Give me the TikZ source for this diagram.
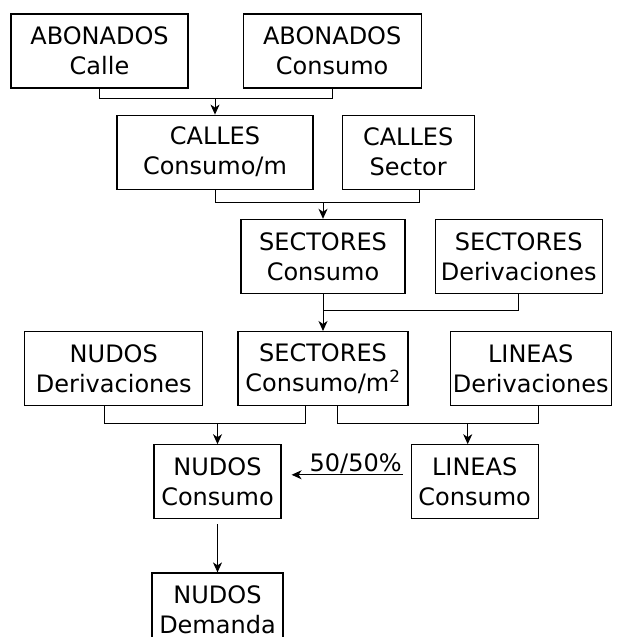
\documentclass[tikz,border=0pt]{standalone}
\usepackage{fontspec}
\setmainfont{DejaVu Sans}
\usepackage{tikz}
\usetikzlibrary{arrows.meta, positioning}
\tikzset{
    box/.style={rectangle, draw, line width=1.2pt, align=center, minimum height=74pt, inner sep=2pt, font=\fontsize{24}{30}\selectfont},
    link/.style={line width=1pt},
    arrow/.style={-{Stealth[length=10pt, width=9pt, inset=3pt]}, line width=1pt},
    pct/.style={font=\fontsize{24}{28}\selectfont, inner sep=0.5pt},
}

\begin{document}
\begin{tikzpicture}[x=1pt, y=1pt]
    \useasboundingbox (0,0) rectangle (617,637);

    \node[box, minimum width=177pt] (abCalle) at (99.5,586) {ABONADOS\\Calle};

    \node[box, minimum width=178pt, right=54pt of abCalle] (abConsumo) {ABONADOS\\Consumo};

    \node[box, minimum width=196pt, below=26pt of abCalle, xshift=115.5pt] (callesCons) {CALLES\\Consumo/m};

    \node[box, minimum width=132pt, right=28pt of callesCons] (callesSector) {CALLES\\Sector};

    \node[box, minimum width=164pt, below=29pt of callesCons, xshift=108pt] (secCons) {SECTORES\\Consumo};

    \node[box, minimum width=167pt, right=29pt of secCons] (secDeriv) {SECTORES\\Derivaciones};

    \node[box, minimum width=170pt, below=37pt of secCons] (secConsM2) {SECTORES\\Consumo/m\textsuperscript{2}};

    \node[box, minimum width=178pt, left=34pt of secConsM2] (nudDeriv) {NUDOS\\Derivaciones};

    \node[box, minimum width=161pt, right=41pt of secConsM2] (linDeriv) {LINEAS\\Derivaciones};

    \node[box, minimum width=127pt, below=38pt of secConsM2, xshift=-105.5pt] (nudCons) {NUDOS\\Consumo};

    \node[box, minimum width=127pt, right=129pt of nudCons] (linCons) {LINEAS\\Consumo};

    \node[box, minimum width=131pt, below=53pt of nudCons] (nudDem) {NUDOS\\Demanda};

    \coordinate (jA) at ([yshift=-10pt]abConsumo.south);
    \coordinate (jB) at ([xshift=11pt, yshift=-13pt]callesSector.south);
    \coordinate (jC) at ([yshift=-17pt]secDeriv.south);
    \coordinate (jD) at ([xshift=-18pt, yshift=-17pt]secConsM2.south);
    \coordinate (jE) at ([xshift=8pt, yshift=-17pt]linDeriv.south);
    \coordinate (linTop) at ([xshift=-7pt]linCons.north);

    \draw[link] (abCalle.south) |- (jA) -- (abConsumo.south);
    \draw[arrow] (jA -| callesCons.north) -- (callesCons.north);

    \draw[link] (callesCons.south) |- (jB) -- ([xshift=11pt]callesSector.south);
    \draw[arrow] (jB -| secCons.north) -- (secCons.north);

    \draw[link] (secCons.south) |- (jC) -- (secDeriv.south);
    \draw[arrow] (jC -| secConsM2.north) -- (secConsM2.north);

    \draw[link] ([xshift=-9pt]nudDeriv.south) |- (jD) -- ([xshift=-18pt]secConsM2.south);
    \draw[arrow] (jD -| nudCons.north) -- (nudCons.north);

    \draw[link] ([xshift=14pt]secConsM2.south) |- (jE) -- ([xshift=8pt]linDeriv.south);
    \draw[arrow] (jE -| linTop) -- (linTop);

    \draw[arrow] ([xshift=-8pt, yshift=7pt]linCons.west) -- ([xshift=10pt, yshift=7pt]nudCons.east) node[pct, pos=0, above left] {50/50\%};

    \draw[arrow, shorten <=5pt] (nudCons) -- (nudDem);
\end{tikzpicture}
\end{document}
